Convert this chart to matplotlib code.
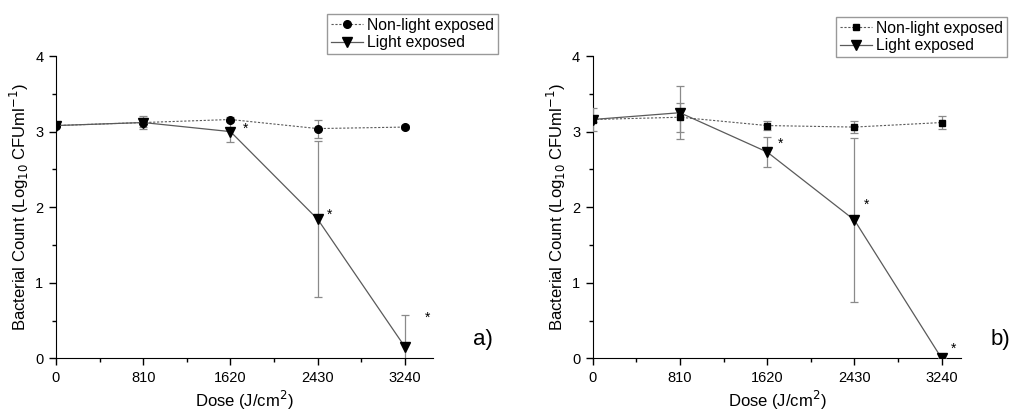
import numpy as np
import matplotlib.pyplot as plt
from matplotlib.lines import Line2D

plt.rcParams['font.family'] = ['Liberation Sans', 'DejaVu Sans']

# Data
dose = [0, 810, 1620, 2430, 3240]

# panel a
a_dark = [3.08, 3.12, 3.16, 3.04, 3.06]
a_dark_err = [0.02, 0.09, 0.03, 0.12, 0.03]
a_light = [3.08, 3.12, 3.00, 1.84, 0.15]
a_light_err = [0.02, 0.06, 0.14, 1.03, 0.42]

# panel b
b_dark = [3.16, 3.19, 3.08, 3.06, 3.12]
b_dark_err = [0.03, 0.19, 0.06, 0.08, 0.08]
b_light = [3.16, 3.25, 2.73, 1.83, 0.0]
b_light_err = [0.15, 0.35, 0.20, 1.09, 0.0]

# asterisk positions (x, y)
a_stars = [(1760, 3.04), (2541, 1.90), (3448, 0.54)]
b_stars = [(1742, 2.84), (2538, 2.03), (3348, 0.12)]

fig = plt.figure(figsize=(10.1, 4.12), dpi=100)
ax1 = fig.add_axes([0.0554, 0.1303, 0.3733, 0.7337])
ax2 = fig.add_axes([0.5868, 0.1303, 0.3647, 0.7337])

ecol = '#8a8a8a'
lcol = '#5a5a5a'
dark_ls = (0, (2, 1.5))


def panel(ax, dark, dark_err, light, light_err, dmark, dms, xmax, stars):
    ax.errorbar(dose, dark, yerr=dark_err, color=lcol, ls=dark_ls, lw=0.8,
                marker=dmark, ms=dms, mfc='black', mec='black',
                ecolor=ecol, elinewidth=0.9, capsize=3, capthick=0.9, zorder=3)
    ax.errorbar(dose, light, yerr=light_err, color=lcol, ls='-', lw=0.9,
                marker='v', ms=6.5, mfc='black', mec='black',
                ecolor=ecol, elinewidth=0.9, capsize=3, capthick=0.9, zorder=3)
    for sx, sy in stars:
        ax.text(sx, sy, '*', fontsize=10, ha='center', va='center')
    ax.set_xlim(0, xmax)
    ax.set_ylim(0, 4)
    ax.set_xticks(dose)
    ax.set_xticks([405, 1215, 2025, 2835], minor=True)
    ax.set_yticks([0, 1, 2, 3, 4])
    ax.set_yticks([0.5, 1.5, 2.5, 3.5], minor=True)
    ax.tick_params(labelsize=10.5, length=5, width=1, direction='out', pad=4)
    ax.tick_params(which='minor', length=3, width=1)
    for s in ['top', 'right']:
        ax.spines[s].set_visible(False)
    ax.set_xlabel('Dose (J/cm$^2$)', fontsize=12, labelpad=3)
    ax.set_ylabel('Bacterial Count (Log$_{10}$ CFUml$^{-1}$)', fontsize=12, labelpad=3)

    handles = [Line2D([], [], color=lcol, ls=dark_ls, lw=0.8, marker=dmark, ms=dms,
                      mfc='black', mec='black'),
               Line2D([], [], color=lcol, ls='-', lw=0.9, marker='v', ms=6.5,
                      mfc='black', mec='black')]
    return handles


h1 = panel(ax1, a_dark, a_dark_err, a_light, a_light_err, 'o', 5.5, 3500, a_stars)
h2 = panel(ax2, b_dark, b_dark_err, b_light, b_light_err, 's', 5, 3420, b_stars)

labels = ['Non-light exposed', 'Light exposed']
leg_kw = dict(loc='upper left', fontsize=11.3, frameon=True, fancybox=False,
              edgecolor='#808080', handlelength=2.0, handletextpad=0.3,
              borderpad=0.25, borderaxespad=0, labelspacing=0.15)
fig.legend(h1, labels, bbox_to_anchor=(0.324, 0.966), **leg_kw)
fig.legend(h2, labels, bbox_to_anchor=(0.828, 0.959), **leg_kw)

fig.text(0.468, 0.175, 'a)', fontsize=16, ha='left', va='center')
fig.text(0.981, 0.175, 'b)', fontsize=16, ha='left', va='center')

fig.savefig('out.png', dpi=100)
